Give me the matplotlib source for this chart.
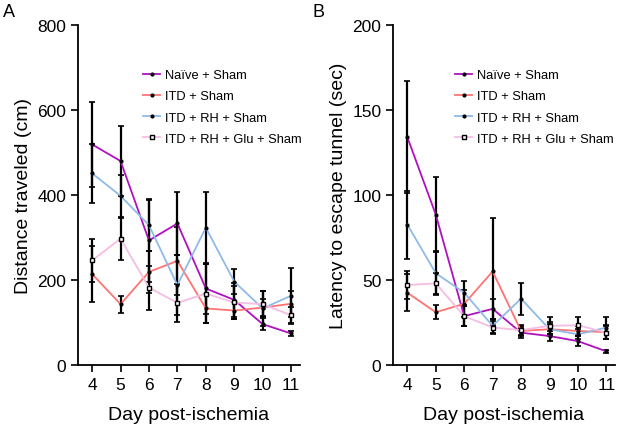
import numpy as np
import matplotlib
matplotlib.use("Agg")
from matplotlib import pyplot as plt

plt.rcParams['font.family'] = ['Liberation Sans', 'DejaVu Sans']

days = [4, 5, 6, 7, 8, 9, 10, 11]
groups = ["Naïve + Sham", "ITD + Sham", "ITD + RH + Sham", "ITD + RH + Glu + Sham"]

# Panel A: distance traveled (cm)
dist_naive = [519, 480, 293, 333, 180, 153, 96, 74]
dist_itd = [214, 143, 219, 245, 133, 128, 135, 144]
dist_rh = [451, 398, 329, 188, 323, 196, 133, 163]
dist_glu = [246, 297, 182, 146, 168, 147, 143, 117]
dist_naive_err = [100, 82, 98, 75, 60, 40, 14, 7]
dist_itd_err = [65, 20, 50, 80, 35, 20, 20, 30]
dist_rh_err = [70, 50, 60, 70, 85, 30, 42, 65]
dist_glu_err = [50, 50, 52, 45, 70, 38, 30, 20]

# Panel B: latency to escape tunnel (sec)
lat_naive = [134, 88.5, 28.7, 33, 19, 17, 14, 8]
lat_itd = [42.5, 31, 36, 55, 20, 21, 20, 19.3]
lat_rh = [82.6, 54, 42.5, 23, 39, 21, 18, 22]
lat_glu = [47, 48, 28.7, 22, 20.5, 23, 23.4, 19]
lat_naive_err = [33, 22, 6, 6, 3, 3, 3, 1]
lat_itd_err = [11, 4, 8, 31.5, 3, 3, 3, 4]
lat_rh_err = [20, 13, 7, 4, 9.5, 4, 3, 6.5]
lat_glu_err = [8, 6, 6, 4, 3, 5, 5, 4]

colors = ["#b010c0", "#ff7373", "#8fbbe8", "#f5bde3"]

fig = plt.figure(figsize=(6.23, 4.27), dpi=100)
axA = fig.add_axes([0.125, 0.143, 0.356, 0.796])
axB = fig.add_axes([0.631, 0.143, 0.356, 0.796])


def draw(ax, series, errs, ylim, yticks, ylabel, leg_x):
    for vals, err in zip(series, errs):
        ax.errorbar(days, vals, yerr=err, fmt='none', ecolor='black',
                    elinewidth=1.6, capsize=2, capthick=1.2, zorder=3)
    for i, vals in enumerate(series):
        if i == 3:
            ax.plot(days, vals, color=colors[i], lw=1.3, marker='s', ms=3.5,
                    mfc='white', mec='black', mew=1.0, label=groups[i], zorder=4)
        else:
            ax.plot(days, vals, color=colors[i], lw=1.3, marker='o', ms=2,
                    mfc='black', mec='black', label=groups[i], zorder=4)
    ax.set_xlim(3.5, 11.3)
    ax.set_ylim(*ylim)
    ax.set_xticks(days)
    ax.set_yticks(yticks)
    ax.spines['top'].set_visible(False)
    ax.spines['right'].set_visible(False)
    ax.spines['left'].set_linewidth(1.3)
    ax.spines['bottom'].set_linewidth(1.3)
    ax.tick_params(direction='out', length=5, width=1.2, labelsize=12.5)
    ax.set_xlabel("Day post-ischemia", fontsize=14, labelpad=10)
    ax.set_ylabel(ylabel, fontsize=14, labelpad=4)
    ax.legend(loc='upper left', bbox_to_anchor=(leg_x, 0.885), frameon=False,
              fontsize=9.3, handlelength=1.35, handletextpad=0.35,
              labelspacing=0.7, borderaxespad=0)


draw(axA, [dist_naive, dist_itd, dist_rh, dist_glu],
     [dist_naive_err, dist_itd_err, dist_rh_err, dist_glu_err],
     (0, 800), [0, 200, 400, 600, 800], "Distance traveled (cm)", 0.27)
draw(axB, [lat_naive, lat_itd, lat_rh, lat_glu],
     [lat_naive_err, lat_itd_err, lat_rh_err, lat_glu_err],
     (0, 200), [0, 50, 100, 150, 200], "Latency to escape tunnel (sec)", 0.255)

fig.text(0.005, 0.96, "A", fontsize=13)
fig.text(0.502, 0.96, "B", fontsize=13)

fig.savefig("out.png", dpi=100)
